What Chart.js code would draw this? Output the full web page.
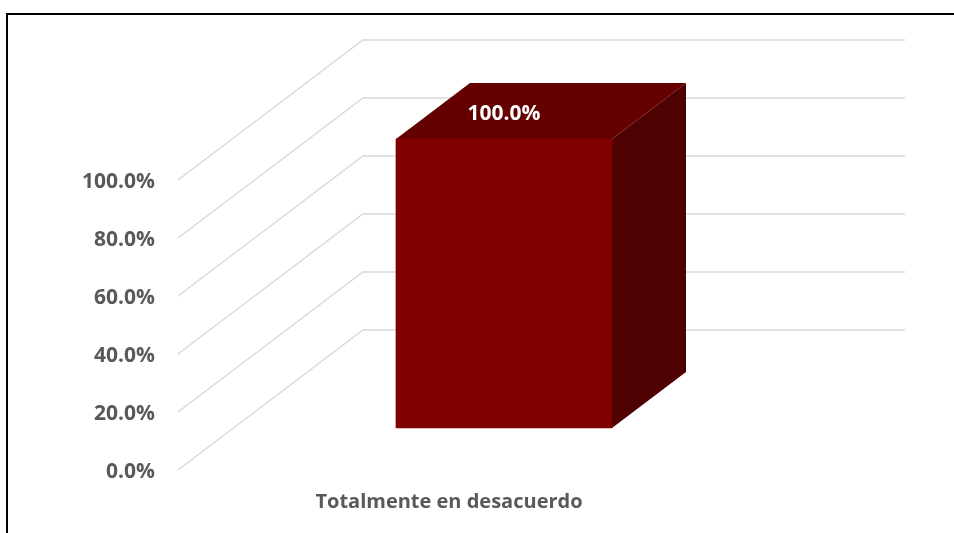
<!DOCTYPE html>
<html>
<head>
<meta charset="utf-8">
<script src="https://cdn.jsdelivr.net/npm/chart.js@4"></script>
<style>
html,body{margin:0;padding:0;background:#fff;overflow:hidden}
#wrap{position:relative;width:954px;height:533px}
#frame{position:absolute;left:6px;top:13px;width:960px;height:540px;border:2px solid #000;box-sizing:border-box}
canvas{position:absolute;left:0;top:0}
</style>
</head>
<body>
<div id="wrap"><canvas id="c" width="954" height="533"></canvas><div id="frame"></div></div>
<script>
const categories = ['Totalmente en desacuerdo'];
const values = [100];
const tickValues = [0, 20, 40, 60, 80, 100];

const FONT = '"Open Sans", Lato, sans-serif';
const FRONT = '#800000', TOP = '#640000', SIDE = '#4f0000', GRID = '#d9d9d9', TEXT = '#595959';
const DEPTH = {dx: 74, dy: 56};
const WALL = {dx: 185, dy: 140, right: 905};

const depth3d = {
  id: 'depth3d',
  beforeDatasetsDraw(chart) {
    const {ctx, scales: {y}} = chart;
    ctx.save();
    ctx.strokeStyle = GRID;
    ctx.lineWidth = 1.4;
    tickValues.forEach(v => {
      const py = y.getPixelForValue(v);
      ctx.beginPath();
      ctx.moveTo(chart.chartArea.left, py);
      ctx.lineTo(chart.chartArea.left + WALL.dx, py - WALL.dy);
      ctx.lineTo(WALL.right, py - WALL.dy);
      ctx.stroke();
    });
    const bar = chart.getDatasetMeta(0).data[0];
    const l = bar.x - bar.width / 2, r = bar.x + bar.width / 2;
    ctx.fillStyle = TOP;
    ctx.beginPath();
    ctx.moveTo(l, bar.y);
    ctx.lineTo(l + DEPTH.dx, bar.y - DEPTH.dy);
    ctx.lineTo(r + DEPTH.dx, bar.y - DEPTH.dy);
    ctx.lineTo(r, bar.y);
    ctx.closePath();
    ctx.fill();
    ctx.fillStyle = SIDE;
    ctx.beginPath();
    ctx.moveTo(r, bar.y);
    ctx.lineTo(r + DEPTH.dx, bar.y - DEPTH.dy);
    ctx.lineTo(r + DEPTH.dx, bar.base - DEPTH.dy);
    ctx.lineTo(r, bar.base);
    ctx.closePath();
    ctx.fill();
    ctx.restore();
  },
  afterDatasetsDraw(chart) {
    const {ctx} = chart;
    const bar = chart.getDatasetMeta(0).data[0];
    ctx.save();
    ctx.fillStyle = '#ffffff';
    ctx.font = 'bold 21px ' + FONT;
    ctx.textAlign = 'center';
    ctx.textBaseline = 'middle';
    ctx.fillText(values[0].toFixed(1) + '%', bar.x, bar.y - 25);
    ctx.restore();
  }
};

new Chart(document.getElementById('c'), {
  type: 'bar',
  data: {
    labels: categories,
    datasets: [{
      data: values.map((v, i) => ({x: i, y: v})),
      xAxisID: 'x2',
      yAxisID: 'y2',
      backgroundColor: FRONT,
      barThickness: 216,
      clip: false
    }]
  },
  options: {
    responsive: false,
    animation: false,
    devicePixelRatio: 1,
    layout: {padding: {left: 7, right: 234, top: 180, bottom: 0}},
    plugins: {legend: {display: false}, tooltip: {enabled: false}},
    scales: {
      x: {
        type: 'category',
        labels: categories,
        grid: {display: false},
        border: {display: false},
        ticks: {color: TEXT, font: {family: FONT, size: 20, weight: 'bold'}, padding: 12, maxRotation: 0},
        afterFit(s) { s.height = 63; }
      },
      y: {
        min: 0, max: 100,
        grid: {display: false},
        border: {display: false},
        afterBuildTicks(s) { s.ticks = tickValues.map(value => ({value})); },
        ticks: {color: TEXT, font: {family: FONT, size: 21, weight: 'bold'}, padding: 15, labelOffset: 2,
                callback: v => v.toFixed(1) + '%'},
        afterFit(s) { s.width = 171; }
      },
      x2: {type: 'linear', display: false, min: -0.5 - 55 / 542, max: 0.5 - 55 / 542, offset: false},
      y2: {type: 'linear', display: false, position: 'left', min: -14.53, max: 85.81}
    }
  },
  plugins: [depth3d]
});
</script>
</body>
</html>
